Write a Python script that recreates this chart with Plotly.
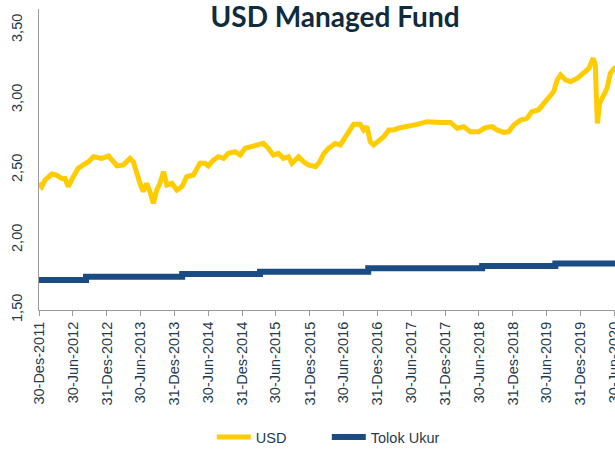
import plotly.graph_objects as go

# ---- data ----
usd_dates = [
    "2011-12-30", "2012-01-14", "2012-02-01", "2012-03-08", "2012-04-03", "2012-05-01",
    "2012-05-18", "2012-06-05", "2012-07-02", "2012-07-29", "2012-08-25", "2012-09-22",
    "2012-10-19", "2012-12-03", "2013-01-08", "2013-02-05", "2013-02-23", "2013-03-29",
    "2013-05-04", "2013-05-22", "2013-06-09", "2013-06-27", "2013-07-15", "2013-08-02",
    "2013-08-20", "2013-09-07", "2013-09-25", "2013-10-13", "2013-11-01", "2013-11-19",
    "2013-12-16", "2014-01-12", "2014-02-09", "2014-03-06", "2014-04-11", "2014-05-17",
    "2014-06-13", "2014-07-01", "2014-07-28", "2014-08-24", "2014-09-21", "2014-10-17",
    "2014-11-23", "2014-12-20", "2015-01-16", "2015-02-22", "2015-03-19", "2015-04-24",
    "2015-05-21", "2015-06-17", "2015-07-14", "2015-08-10", "2015-09-07", "2015-09-25",
    "2015-10-31", "2015-11-27", "2015-12-24", "2016-01-30", "2016-02-20", "2016-03-14",
    "2016-04-10", "2016-05-16", "2016-06-12", "2016-07-09", "2016-08-05", "2016-08-23",
    "2016-09-28", "2016-10-16", "2016-11-03", "2016-11-21", "2016-12-09", "2017-01-06",
    "2017-02-02", "2017-03-01", "2017-03-27", "2017-05-02", "2017-06-07", "2017-07-31",
    "2017-09-24", "2017-10-30", "2017-12-05", "2018-01-28", "2018-03-05", "2018-04-09",
    "2018-05-15", "2018-06-29", "2018-08-04", "2018-09-10", "2018-10-06", "2018-11-12",
    "2018-12-08", "2019-01-05", "2019-02-10", "2019-03-17", "2019-04-13", "2019-05-18",
    "2019-06-15", "2019-07-12", "2019-08-08", "2019-08-27", "2019-09-14", "2019-10-11",
    "2019-11-07", "2019-12-13", "2020-01-18", "2020-02-14", "2020-03-08", "2020-03-20",
    "2020-03-25", "2020-03-31", "2020-04-12", "2020-05-04", "2020-05-22", "2020-06-09",
    "2020-07-06",
]
usd_values = [
    2.405, 2.381, 2.429, 2.471, 2.464, 2.440,
    2.440, 2.381, 2.452, 2.512, 2.536, 2.559,
    2.595, 2.583, 2.600, 2.559, 2.529, 2.536,
    2.583, 2.559, 2.464, 2.405, 2.345, 2.405,
    2.345, 2.262, 2.357, 2.405, 2.488, 2.393,
    2.405, 2.357, 2.381, 2.452, 2.464, 2.548,
    2.548, 2.529, 2.571, 2.595, 2.583, 2.619,
    2.631, 2.607, 2.655, 2.667, 2.679, 2.690,
    2.655, 2.607, 2.619, 2.583, 2.595, 2.548,
    2.595, 2.559, 2.536, 2.524, 2.555, 2.615,
    2.655, 2.690, 2.679, 2.738, 2.798, 2.826,
    2.826, 2.786, 2.810, 2.702, 2.679, 2.714,
    2.738, 2.786, 2.786, 2.802, 2.810, 2.826,
    2.845, 2.840, 2.840, 2.840, 2.798, 2.810,
    2.774, 2.774, 2.802, 2.810, 2.786, 2.769,
    2.774, 2.821, 2.857, 2.869, 2.917, 2.929,
    2.976, 3.024, 3.060, 3.143, 3.179, 3.143,
    3.131, 3.155, 3.190, 3.226, 3.298, 3.250,
    3.036, 2.833, 2.976, 3.048, 3.083, 3.190,
    3.238,
]

bench_dates = ["2011-12-30", "2012-09-09", "2014-02-10", "2015-04-06",
               "2016-11-10", "2018-07-18", "2019-08-17", "2020-07-06"]
bench_values = [1.714, 1.738, 1.757, 1.774, 1.798, 1.814, 1.833, 1.833]

tick_dates = ["2011-12-30", "2012-06-30", "2012-12-31", "2013-06-30", "2013-12-31",
              "2014-06-30", "2014-12-31", "2015-06-30", "2015-12-31", "2016-06-30",
              "2016-12-31", "2017-06-30", "2017-12-31", "2018-06-30", "2018-12-31",
              "2019-06-30", "2019-12-31", "2020-06-30"]
tick_labels = ["30-Des-2011", "30-Jun-2012", "31-Des-2012", "30-Jun-2013", "31-Des-2013",
               "30-Jun-2014", "31-Des-2014", "30-Jun-2015", "31-Des-2015", "30-Jun-2016",
               "31-Des-2016", "30-Jun-2017", "31-Des-2017", "30-Jun-2018", "31-Des-2018",
               "30-Jun-2019", "31-Des-2019", "30-Jun-2020"]

y_ticks = [1.5, 2.0, 2.5, 3.0, 3.5]

YELLOW = "#FFCC00"
NAVY = "#1A4B82"
TEXT = "#1F3B4C"
AXIS = "#9A9A9A"

fig = go.Figure()
fig.add_trace(go.Scatter(x=usd_dates, y=usd_values, name="USD", mode="lines",
                         line=dict(color=YELLOW, width=5)))
fig.add_trace(go.Scatter(x=bench_dates, y=bench_values, name="Tolok Ukur", mode="lines",
                         line=dict(color=NAVY, width=6, shape="hv")))

fig.update_layout(
    template="none",
    width=615, height=450,
    margin=dict(l=39, r=0, t=9, b=140, autoexpand=False),
    paper_bgcolor="white", plot_bgcolor="white",
    separators=",.",
    title=dict(text="<b>USD Managed Fund</b>", x=0.514, xref="paper",
               y=1 - 17 / 450, yref="container", xanchor="center", yanchor="middle",
               font=dict(family="Lato", size=28, color="#0F2B3D", weight="bold")),
    showlegend=True,
    legend=dict(orientation="h", x=0.300, xanchor="left", y=-0.422, yanchor="middle",
                font=dict(family="Liberation Sans, Arial", size=14.5, color=TEXT),
                entrywidth=66, itemwidth=34, bgcolor="rgba(0,0,0,0)"),
    xaxis=dict(type="date", range=["2011-12-30", "2020-07-04"], automargin=False,
               tickvals=tick_dates, ticktext=tick_labels, tickangle=-90,
               ticklabeloverflow="allow",
               showline=True, linecolor=AXIS, linewidth=1,
               ticks="outside", ticklen=5, tickcolor=AXIS,
               showgrid=False, zeroline=False,
               tickfont=dict(family="Liberation Sans, Arial", size=14.5, color=TEXT)),
    yaxis=dict(range=[1.5, 3.65], tickvals=y_ticks, tickformat=".2f", tickangle=-90,
               automargin=False,
               showline=True, linecolor=AXIS, linewidth=1, ticks="",
               showgrid=False, zeroline=False, ticklabelstandoff=10,
               tickfont=dict(family="Liberation Sans, Arial", size=14.5, color=TEXT)),
)

fig.write_html("out.html", config={"displayModeBar": False},
               post_script="document.body.style.margin='0';document.body.style.padding='0';"
                           "document.body.style.overflow='hidden';")
